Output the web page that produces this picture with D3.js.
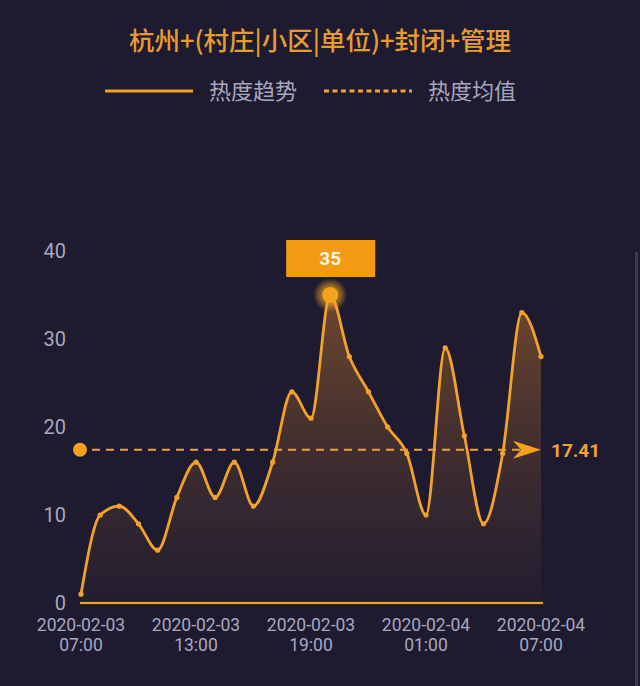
<!DOCTYPE html>
<html><head><meta charset="utf-8">
<script src="https://cdn.jsdelivr.net/npm/d3@7"></script>
<style>
html,body{margin:0;padding:0;background:#1e1b30;}
svg{display:block}
</style>
</head><body>
<script>
// ---- data ----
const hours = ["02-03 07:00","02-03 08:00","02-03 09:00","02-03 10:00","02-03 11:00","02-03 12:00",
  "02-03 13:00","02-03 14:00","02-03 15:00","02-03 16:00","02-03 17:00","02-03 18:00",
  "02-03 19:00","02-03 20:00","02-03 21:00","02-03 22:00","02-03 23:00","02-04 00:00",
  "02-04 01:00","02-04 02:00","02-04 03:00","02-04 04:00","02-04 05:00","02-04 06:00","02-04 07:00"];
const heat = [1,10,11,9,6,12,16,12,16,11,16,24,21,35,28,24,20,17,10,29,19,9,17,33,28];
const average = 17.41;
const yTicks = [0,10,20,30,40];
const xTickHours = ["02-03 07:00","02-03 13:00","02-03 19:00","02-04 01:00","02-04 07:00"];
const xTickLines = [["2020-02-03","07:00"],["2020-02-03","13:00"],["2020-02-03","19:00"],["2020-02-04","01:00"],["2020-02-04","07:00"]];
const titleText = "杭州+(村庄|小区|单位)+封闭+管理";
const legendLabels = ["热度趋势","热度均值"];

// ---- drawing ----
const W = 640, H = 686;
const bg = "#1e1b30", orange = "#f2a22a", grey = "#a9a7bf";
const cjk = "'Noto Sans CJK SC','Noto Sans',sans-serif";
const num = "Roboto,'Noto Sans',sans-serif";

const svg = d3.select("body").append("svg").attr("width", W).attr("height", H);
svg.append("rect").attr("width", W).attr("height", H).attr("fill", bg);

const x = d3.scalePoint().domain(hours).range([81, 541]);
const y = d3.scaleLinear().domain([0, 40]).range([603, 251]);

const defs = svg.append("defs");
const grad = defs.append("linearGradient").attr("id", "areaGrad")
  .attr("gradientUnits", "userSpaceOnUse").attr("x1", 0).attr("x2", 0)
  .attr("y1", y(d3.max(heat))).attr("y2", y(0));
grad.append("stop").attr("offset", "0%").attr("stop-color", "#f0902a").attr("stop-opacity", 0.38);
grad.append("stop").attr("offset", "50%").attr("stop-color", "#e0842a").attr("stop-opacity", 0.18);
grad.append("stop").attr("offset", "100%").attr("stop-color", "#c07a30").attr("stop-opacity", 0.03);

const glow = defs.append("radialGradient").attr("id", "glow");
glow.append("stop").attr("offset", "0%").attr("stop-color", "#f5a623").attr("stop-opacity", 0.9);
glow.append("stop").attr("offset", "60%").attr("stop-color", "#f5a623").attr("stop-opacity", 0.5);
glow.append("stop").attr("offset", "100%").attr("stop-color", "#f5a623").attr("stop-opacity", 0.0);

// scrollbar hint at right edge
svg.append("rect").attr("x", 635).attr("y", 252).attr("width", 3).attr("height", H - 252)
  .attr("fill", "#3b3952");

// title
svg.append("text").attr("x", 320).attr("y", 50).attr("text-anchor", "middle")
  .attr("font-family", cjk).attr("font-size", 25.5).attr("font-weight", 500)
  .attr("fill", "#e89c30").text(titleText);

// legend
const lg = svg.append("g");
lg.append("line").attr("x1", 105).attr("x2", 193).attr("y1", 91).attr("y2", 91)
  .attr("stroke", orange).attr("stroke-width", 3);
lg.append("text").attr("x", 209).attr("y", 99).attr("font-family", cjk).attr("font-size", 22)
  .attr("fill", grey).text(legendLabels[0]);
lg.append("line").attr("x1", 324).attr("x2", 412).attr("y1", 91).attr("y2", 91)
  .attr("stroke", orange).attr("stroke-width", 3).attr("stroke-dasharray", "5,3.5");
lg.append("text").attr("x", 428).attr("y", 99).attr("font-family", cjk).attr("font-size", 22)
  .attr("fill", grey).text(legendLabels[1]);

// gridlines (nearly invisible)
svg.append("g").selectAll("line").data(yTicks.slice(1)).join("line")
  .attr("x1", 81).attr("x2", 541).attr("y1", d => y(d)).attr("y2", d => y(d))
  .attr("stroke", "#23203a").attr("stroke-width", 1);

// y axis labels
const yAxis = svg.append("g").attr("transform", "translate(72,0)")
  .call(d3.axisLeft(y).tickValues(yTicks).tickSize(0).tickPadding(6));
yAxis.select(".domain").remove();
yAxis.selectAll("text").attr("font-family", num).attr("font-size", 20).attr("fill", grey);

// area + line
const area = d3.area().x((d, i) => x(hours[i])).y0(y(0)).y1(d => y(d)).curve(d3.curveMonotoneX);
const line = d3.line().x((d, i) => x(hours[i])).y(d => y(d)).curve(d3.curveMonotoneX);
svg.append("path").datum(heat).attr("d", area).attr("fill", "url(#areaGrad)");

// x axis baseline
svg.append("line").attr("x1", 80).attr("x2", 543).attr("y1", y(0)).attr("y2", y(0))
  .attr("stroke", "#3a2a1e").attr("stroke-width", 4);
svg.append("line").attr("x1", 80).attr("x2", 543).attr("y1", y(0)).attr("y2", y(0))
  .attr("stroke", orange).attr("stroke-width", 2);

svg.append("path").datum(heat).attr("d", line).attr("fill", "none")
  .attr("stroke", orange).attr("stroke-width", 2.8).attr("stroke-linejoin", "round");
svg.append("g").selectAll("circle").data(heat).join("circle")
  .attr("cx", (d, i) => x(hours[i])).attr("cy", d => y(d)).attr("r", 2.6).attr("fill", orange);

// x axis labels
const xl = svg.append("g");
xTickHours.forEach((h, k) => {
  const t = xl.append("text").attr("x", x(h)).attr("text-anchor", "middle")
    .attr("font-family", num).attr("font-size", 17.5).attr("fill", grey);
  t.append("tspan").attr("x", x(h)).attr("y", 631).text(xTickLines[k][0]);
  t.append("tspan").attr("x", x(h)).attr("y", 651).text(xTickLines[k][1]);
});

// average line
const ay = y(average);
const lastX = x(hours[hours.length - 1]);
svg.append("line").attr("x1", 92).attr("x2", 520).attr("y1", ay).attr("y2", ay)
  .attr("stroke", "#eaa040").attr("stroke-width", 2).attr("stroke-dasharray", "8,6");
svg.append("circle").attr("cx", 80).attr("cy", ay).attr("r", 7).attr("fill", "#f5a11e");
svg.append("path")
  .attr("d", `M${lastX},${ay} L${lastX - 28},${ay - 9} L${lastX - 20},${ay} L${lastX - 28},${ay + 9} Z`)
  .attr("fill", "#f5a11e");
svg.append("text").attr("x", 551).attr("y", ay + 7).attr("font-family", num)
  .attr("font-size", 19).attr("font-weight", 700).attr("fill", "#f0a235").text(average.toFixed(2));

// max marker
const maxV = d3.max(heat), maxI = heat.indexOf(maxV);
const mx = x(hours[maxI]), my = y(maxV);
svg.append("circle").attr("cx", mx).attr("cy", my).attr("r", 17).attr("fill", "url(#glow)");
svg.append("circle").attr("cx", mx).attr("cy", my).attr("r", 8).attr("fill", "#f5a21c");
svg.append("rect").attr("x", mx - 44).attr("y", 240).attr("width", 89).attr("height", 37)
  .attr("fill", "#f39a12");
svg.append("text").attr("x", mx).attr("y", 265).attr("text-anchor", "middle")
  .attr("font-family", num).attr("font-size", 19).attr("font-weight", 700)
  .attr("fill", "#fff6e6").text(maxV);
</script>
</body></html>
